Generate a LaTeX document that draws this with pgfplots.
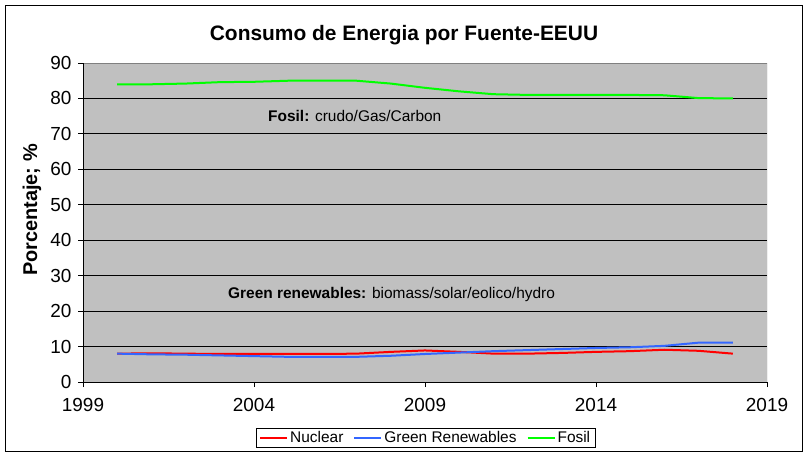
\documentclass[border=0pt]{standalone}
\usepackage{fontspec}
\setmainfont{Liberation Sans}
\usepackage{pgfplots}
\pgfplotsset{compat=1.18}
\definecolor{plotgray}{RGB}{192,192,192}
\definecolor{bordgray}{RGB}{128,128,128}
\definecolor{nucred}{RGB}{255,0,0}
\definecolor{grnblue}{RGB}{51,102,255}
\definecolor{fosgreen}{RGB}{0,255,0}
\begin{document}
\begin{tikzpicture}
\useasboundingbox (0,0) rectangle (809bp,458bp);
\fill[white] (0,0) rectangle (809bp,458bp);
\draw[black, line width=1bp] (5.5bp,6.5bp) rectangle (802bp,452bp);
\node[anchor=base, inner sep=0pt, font=\fontsize{21}{24}\selectfont\bfseries] at (404bp,417bp) {Consumo de Energia por Fuente-EEUU};
\node[anchor=base, rotate=90, inner sep=0pt, font=\fontsize{20}{23}\selectfont\bfseries] at (37bp,248bp) {Porcentaje; \%};
\begin{axis}[
  at={(83bp,76bp)}, anchor=south west,
  scale only axis, width=684bp, height=319bp,
  xmin=1999, xmax=2019, ymin=0, ymax=90,
  xtick={1999,2004,2009,2014,2019},
  ytick={0,10,...,90},
  tick pos=left, tick align=outside,
  major tick length=5bp,
  tick style={black, line width=1bp},
  axis line style={draw=none},
  axis background/.style={fill=plotgray},
  ymajorgrids, grid style={black, line width=1bp},
  /pgf/number format/assume math mode=true,
  /pgf/number format/1000 sep={},
  ticklabel style={font=\fontsize{19}{22}\selectfont},
  yticklabel style={xshift=-3bp},
  xticklabel style={yshift=-8bp},
  legend style={at={(0.501,-0.1755)}, anchor=center, draw=black, line width=1bp,
    font=\fontsize{15.5}{18}\selectfont, inner xsep=3bp, inner ysep=1bp,
    /tikz/every even column/.append style={column sep=8bp}},
  legend columns=3,
  legend cell align=left,
  legend image code/.code={\draw[#1, line width=2bp] (0bp,0bp) -- (27bp,0bp);},
]
\addplot[nucred, line width=2bp] coordinates {
(2000,8.0) (2001,8.1) (2002,8.0) (2003,7.9) (2004,7.9) (2005,7.9) (2006,7.9)
(2007,8.0) (2008,8.5) (2009,8.9) (2010,8.5) (2011,8.0) (2012,8.0) (2013,8.2)
(2014,8.5) (2015,8.7) (2016,9.1) (2017,8.8) (2018,8.0)};
\addlegendentry{Nuclear}
\addplot[grnblue, line width=2bp] coordinates {
(2000,8.0) (2001,7.8) (2002,7.7) (2003,7.5) (2004,7.3) (2005,7.1) (2006,7.1)
(2007,7.1) (2008,7.4) (2009,7.9) (2010,8.3) (2011,8.7) (2012,9.0) (2013,9.3)
(2014,9.6) (2015,9.8) (2016,10.2) (2017,11.1) (2018,11.1)};
\addlegendentry{Green Renewables}
\addplot[fosgreen, line width=2bp] coordinates {
(2000,84.0) (2001,84.0) (2002,84.2) (2003,84.6) (2004,84.7) (2005,85.0) (2006,85.0)
(2007,85.0) (2008,84.2) (2009,83.0) (2010,82.0) (2011,81.2) (2012,81.0) (2013,81.0)
(2014,81.0) (2015,81.0) (2016,80.9) (2017,80.1) (2018,80.0)};
\addlegendentry{Fosil}
\draw[bordgray, line width=1bp] (rel axis cs:0,1) -- (rel axis cs:1,1) -- (rel axis cs:1,0);
\draw[black, line width=1bp] (rel axis cs:0,1) -- (rel axis cs:0,0) -- (rel axis cs:1,0);
\node[anchor=base west, inner sep=0pt, font=\fontsize{15.5}{18}\selectfont] at (axis cs:2004.41,73.45) {\textbf{Fosil:} crudo/Gas/Carbon};
\node[anchor=base west, inner sep=0pt, font=\fontsize{15.5}{18}\selectfont] at (axis cs:2003.24,23.6) {\textbf{Green renewables:} biomass/solar/eolico/hydro};
\end{axis}
\end{tikzpicture}
\end{document}
